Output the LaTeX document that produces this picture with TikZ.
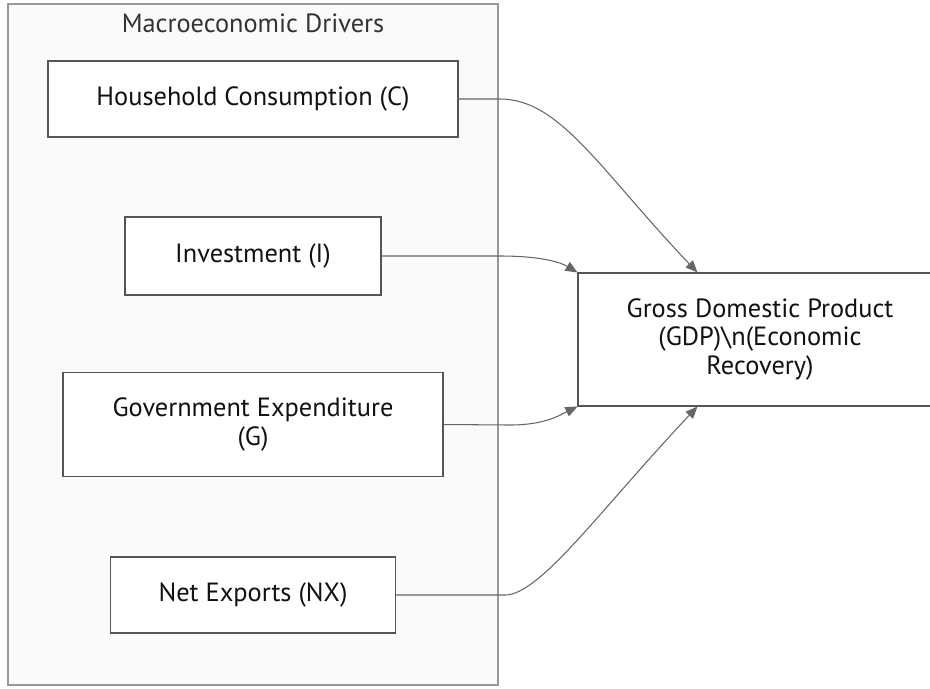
\documentclass[tikz,border=0pt]{standalone}
\usepackage{fontspec}
\setmainfont{PT Sans}
\usetikzlibrary{arrows.meta}

\definecolor{clusterfill}{HTML}{FAFAFA}
\definecolor{clusterline}{HTML}{999999}
\definecolor{boxline}{HTML}{555555}
\definecolor{edgeline}{HTML}{666666}
\definecolor{textcol}{HTML}{111111}
\definecolor{titlecol}{HTML}{333333}

\tikzset{
	driver/.style={draw=boxline, fill=white, line width=0.6pt, align=center,
		text=textcol, font=\fontsize{15}{16}\selectfont},
	edge/.style={draw=edgeline, line width=0.6pt,
		-{Triangle[length=0.24cm,width=0.2cm]}}
}

\begin{document}
\begin{tikzpicture}
	
	% Fix the page size
	\useasboundingbox (0,0) rectangle (18.6,-13.76);
	
	% Group of drivers
	\draw[draw=clusterline, fill=clusterfill, line width=0.6pt] (0.16,-0.08) rectangle (9.96,-13.7);
	\node[text=titlecol, font=\fontsize{15}{16}\selectfont] (title) at (5.06,-0.46) {Macroeconomic Drivers};
	
	% The four components
	\node[driver, minimum width=8.2cm, minimum height=1.52cm] (hh) at (5.06,-1.98) {Household Consumption (C)};
	\node[driver, minimum width=5.12cm, minimum height=1.56cm] (inv) at (5.06,-5.12) {Investment (I)};
	\node[driver, minimum width=7.6cm, minimum height=2.08cm] (gov) at (5.06,-8.49) {Government Expenditure\\(G)};
	\node[driver, minimum width=5.7cm, minimum height=1.52cm] (nx) at (5.06,-11.9) {Net Exports (NX)};
	
	% Output
	\node[driver, minimum width=7.28cm, minimum height=2.66cm] (gdp) at (15.2,-6.79) {Gross Domestic Product\\(GDP)\textbackslash n(Economic\\Recovery)};
	
	% Links into GDP
	\draw[edge] (hh.east) -- (10.0,-1.98) .. controls (11.2,-1.98) and (12.0,-3.4) .. ([xshift=2.4cm]gdp.north west);
	\draw[edge] (inv.east) -- (10.0,-5.12) .. controls (10.8,-5.12) and (11.2,-5.24) .. (gdp.north west);
	\draw[edge] (gov.east) -- (10.2,-8.5) .. controls (10.9,-8.5) and (11.2,-8.3) .. (gdp.south west);
	\draw[edge] (nx.east) -- (10.1,-11.9) .. controls (10.8,-11.9) and (12.0,-10.2) .. ([xshift=2.4cm]gdp.south west);
	
\end{tikzpicture}
\end{document}
